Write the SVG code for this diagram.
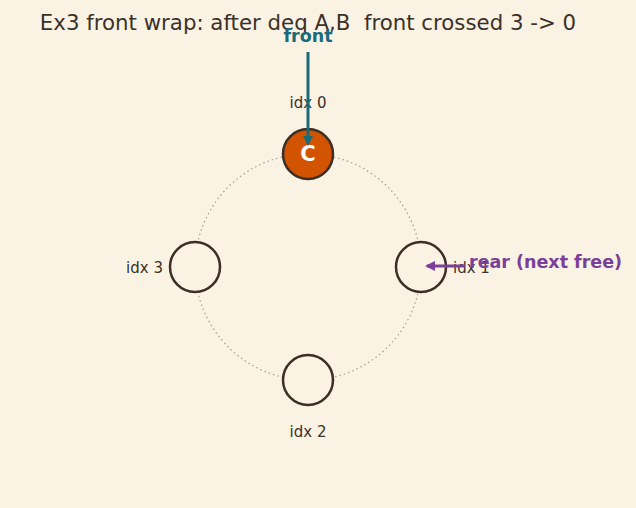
<svg xmlns="http://www.w3.org/2000/svg" width="636" height="508" viewBox="0 0 636 508">
<style>
text{font-family:"DejaVu Sans","Liberation Sans",sans-serif;}
.title{font-size:21.3px;fill:#3a3129;white-space:pre;}
.lbl{font-size:15px;fill:#3a3129;}
.slot{fill:#faf2e3;stroke:#3a2e25;stroke-width:2.5;}
</style>
<defs>
<marker id="ahT" markerWidth="10" markerHeight="10" refX="8" refY="5" orient="auto" markerUnits="userSpaceOnUse"><path d="M0,0 L10,5 L0,10 z" fill="#1b6a7a"/></marker>
<marker id="ahP" markerWidth="12" markerHeight="10" refX="8" refY="5" orient="auto" markerUnits="userSpaceOnUse"><path d="M0,0 L10,5 L0,10 z" fill="#7b3f98"/></marker>
</defs>
<rect width="636" height="508" fill="#faf2e3"/>
<text class="title" x="308" y="30" text-anchor="middle" xml:space="preserve">Ex3 front wrap: after deq A,B  front crossed 3 -&gt; 0</text>
<circle cx="308" cy="267" r="113" fill="none" stroke="#a89c8c" stroke-width="1.2" stroke-dasharray="1.5,3"/>
<g id="n0">
<circle cx="308" cy="154" r="25" fill="#d35400" stroke="#3a2e25" stroke-width="2.5"/>
<text x="308" y="161" text-anchor="middle" font-size="21" font-weight="bold" fill="#ffffff">C</text>
<text class="lbl" x="308" y="108" text-anchor="middle">idx 0</text>
</g>
<g id="n1">
<circle class="slot" cx="421" cy="267" r="25"/>
<text class="lbl" x="453" y="273">idx 1</text>
</g>
<g id="n2">
<circle class="slot" cx="308" cy="380" r="25"/>
<text class="lbl" x="308" y="437" text-anchor="middle">idx 2</text>
</g>
<g id="n3">
<circle class="slot" cx="195" cy="267" r="25"/>
<text class="lbl" x="163" y="273" text-anchor="end">idx 3</text>
</g>
<g id="connectors">
<line x1="308" y1="52" x2="308" y2="144" stroke="#1b6a7a" stroke-width="3" marker-end="url(#ahT)"/>
<line x1="465" y1="266" x2="427" y2="266" stroke="#7b3f98" stroke-width="3" marker-end="url(#ahP)"/>
</g>
<text x="308" y="42" text-anchor="middle" font-size="17.5" font-weight="bold" fill="#1b6a7a">front</text>
<text x="469" y="268" font-size="17.5" font-weight="bold" fill="#7b3f98">rear (next free)</text>
</svg>
